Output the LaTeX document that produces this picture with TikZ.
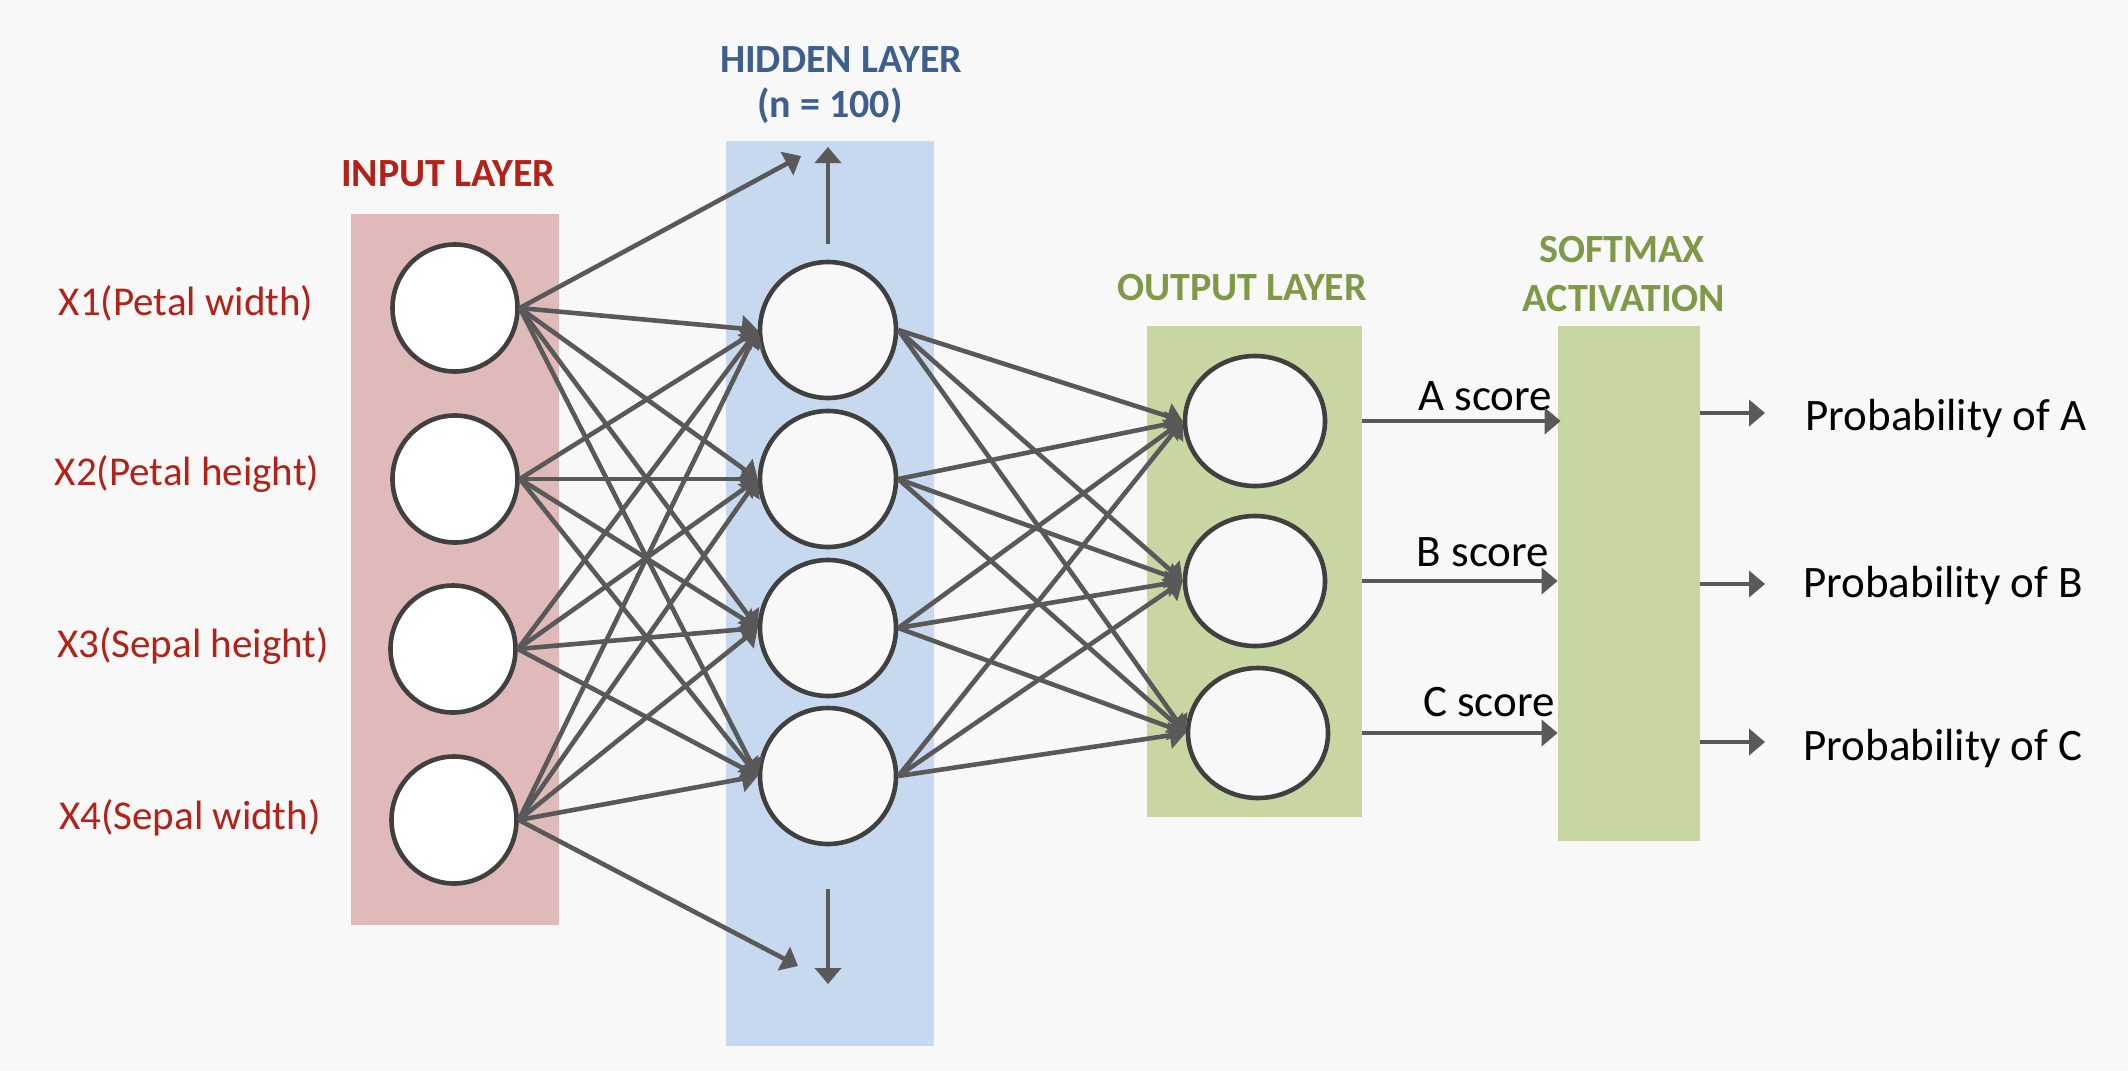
\documentclass[tikz,border=0pt]{standalone}
\usepackage{fontspec}
\setmainfont{Carlito}
\usetikzlibrary{arrows.meta,shapes.geometric}
\definecolor{bgc}{HTML}{F8F8F8}
\definecolor{inpfill}{HTML}{DFBAB9}
\definecolor{hidfill}{HTML}{C7D9EF}
\definecolor{outfill}{HTML}{C8D7A1}
\definecolor{redtxt}{HTML}{B22218}
\definecolor{bluetxt}{HTML}{3E5F8E}
\definecolor{greentxt}{HTML}{7E9A47}
\definecolor{linec}{HTML}{595959}
\definecolor{circc}{HTML}{404040}
\begin{document}
\begin{tikzpicture}[x=0.5pt,y=-0.5pt,
  layerbox/.style={draw=none,rectangle,inner sep=0pt,minimum width=#1},
  neuron/.style={ellipse,draw=circc,line width=2.3pt,fill=white,inner sep=0pt},
  inneuron/.style={neuron,minimum width=62.5pt,minimum height=63.5pt},
  hidneuron/.style={neuron,fill=bgc,minimum width=68pt,minimum height=68pt},
  outneuron/.style={neuron,fill=bgc,minimum width=70pt,minimum height=65pt},
  conn/.style={draw=linec,line width=2.3pt,-{Triangle[length=8pt,width=13pt]}},
  title/.style={font=\bfseries\fontsize{20}{24}\selectfont,inner sep=0pt,align=center},
  xlab/.style={text=redtxt,font=\fontsize{20.5}{24}\selectfont,inner sep=0pt},
  blab/.style={text=black,font=\fontsize{22.5}{26}\selectfont,inner sep=0pt}
]
\useasboundingbox (0,0) rectangle (2128,1070);
\fill[bgc] (0,0) rectangle (2128,1070);

% layer backgrounds
\node[layerbox=104pt,fill=inpfill,minimum height=355.5pt] (inrect) at (455,569.5) {};
\node[layerbox=104pt,fill=hidfill,minimum height=452.5pt] (hidrect) at (830,593.5) {};
\node[layerbox=107.5pt,fill=outfill,minimum height=245.5pt] (outrect) at (1254.5,571.5) {};
\node[layerbox=71pt,fill=outfill,minimum height=257.5pt] (smrect) at (1629,583.5) {};

% titles
\node[title,text=redtxt] (tin) at (448,174) {INPUT LAYER};
\node[title,text=bluetxt] (thid1) at (841,60) {HIDDEN LAYER};
\node[title,text=bluetxt] (thid2) at (830,106) {(n = 100)};
\node[title,text=greentxt] (tout) at (1242,288) {OUTPUT LAYER};
\node[title,text=greentxt] (tsm1) at (1622,250) {SOFTMAX};
\node[title,text=greentxt] (tsm2) at (1624,299) {ACTIVATION};

% input labels
\node[xlab] (l1) at (186,303) {X1(Petal width)};
\node[xlab] (l2) at (187,474) {X2(Petal height)};
\node[xlab] (l3) at (193,646) {X3(Sepal height)};
\node[xlab] (l4) at (190,818) {X4(Sepal width)};

% neurons
\node[inneuron] (in1) at (455,308) {};
\node[inneuron] (in2) at (455,479) {};
\node[inneuron] (in3) at (453,649) {};
\node[inneuron] (in4) at (454,820) {};
\node[hidneuron] (h1) at (828,330) {};
\node[hidneuron] (h2) at (828,479) {};
\node[hidneuron] (h3) at (828,628) {};
\node[hidneuron] (h4) at (828,776) {};
\node[outneuron] (o1) at (1255,421) {};
\node[outneuron] (o2) at (1255,581) {};
\node[outneuron] (o3) at (1258,733) {};

% connections input -> hidden
\foreach \i in {1,...,4}{
  \foreach \j in {1,...,4}{
    \draw[conn] (in\i.east) -- (h\j.west);
  }
}
% hidden -> output
\foreach \i in {1,...,4}{
  \foreach \j in {1,...,3}{
    \draw[conn] (h\i.east) -- (o\j.west);
  }
}

% extra arrows (more hidden units)
\coordinate (up1) at (801,156);
\coordinate (upS) at (828,244);
\coordinate (upE) at (828,147);
\coordinate (dn1) at (798,966);
\coordinate (dnS) at (828,889);
\coordinate (dnE) at (828,984);
\draw[conn] (in1.east) -- (up1);
\draw[conn] (upS) -- (upE);
\draw[conn] (in4.east) -- (dn1);
\draw[conn] (dnS) -- (dnE);

% scores
\node[blab] (sa) at (1485,396) {A score};
\node[blab] (sb) at (1483,552) {B score};
\node[blab] (sc) at (1489,702) {C score};
\draw[conn] (outrect.east |- o1) -- ([xshift=1.5pt]smrect.west |- o1);
\draw[conn] (outrect.east |- o2) -- (smrect.west |- o2);
\draw[conn] (outrect.east |- o3) -- (smrect.west |- o3);

% probabilities
\node[blab] (pa) at (1946,418) {Probability of A};
\node[blab] (pb) at (1943,585) {Probability of B};
\node[blab] (pc) at (1943,748) {Probability of C};
\coordinate (pae) at (1765,413);
\coordinate (pbe) at (1765,584);
\coordinate (pce) at (1765,742);
\draw[conn] (smrect.east |- pae) -- (pae);
\draw[conn] (smrect.east |- pbe) -- (pbe);
\draw[conn] (smrect.east |- pce) -- (pce);
\end{tikzpicture}
\end{document}
